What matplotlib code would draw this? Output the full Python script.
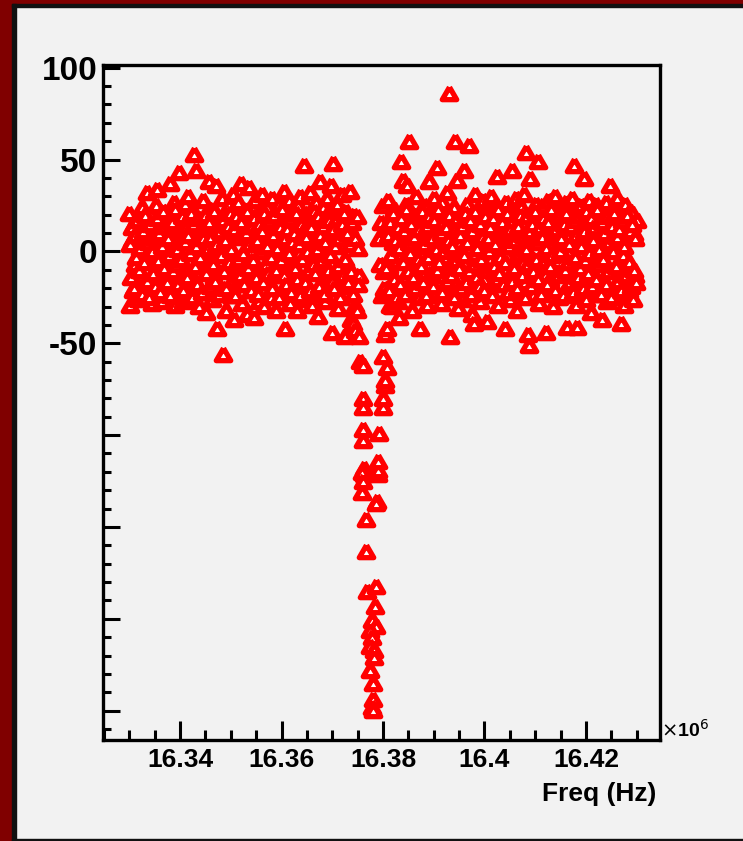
import matplotlib
matplotlib.use('Agg')
from matplotlib import pyplot as plt
from matplotlib.patches import Rectangle
from matplotlib.markers import MarkerStyle
from matplotlib.ticker import MultipleLocator, FixedLocator
import numpy as np

# left side of the resonance, first sweep (freq in MHz)
freq_left = [
    16.3300, 16.3302, 16.3305, 16.3307, 16.3310, 16.3312, 16.3315, 16.3317, 16.3320, 16.3322,
    16.3325, 16.3327, 16.3330, 16.3332, 16.3335, 16.3337, 16.3340, 16.3342, 16.3345, 16.3347,
    16.3350, 16.3352, 16.3355, 16.3357, 16.3360, 16.3362, 16.3365, 16.3367, 16.3370, 16.3372,
    16.3375, 16.3377, 16.3380, 16.3382, 16.3385, 16.3387, 16.3390, 16.3392, 16.3395, 16.3397,
    16.3400, 16.3402, 16.3405, 16.3407, 16.3410, 16.3412, 16.3415, 16.3417, 16.3420, 16.3422,
    16.3425, 16.3427, 16.3430, 16.3432, 16.3435, 16.3437, 16.3440, 16.3442, 16.3445, 16.3447,
    16.3450, 16.3452, 16.3455, 16.3457, 16.3460, 16.3462, 16.3465, 16.3467, 16.3470, 16.3472,
    16.3475, 16.3477, 16.3480, 16.3482, 16.3485, 16.3487, 16.3490, 16.3492, 16.3495, 16.3497,
    16.3500, 16.3502, 16.3505, 16.3507, 16.3510, 16.3512, 16.3515, 16.3517, 16.3520, 16.3522,
    16.3525, 16.3527, 16.3530, 16.3532, 16.3535, 16.3537, 16.3540, 16.3542, 16.3545, 16.3547,
    16.3550, 16.3552, 16.3555, 16.3557, 16.3560, 16.3562, 16.3565, 16.3567, 16.3570, 16.3572,
    16.3575, 16.3577, 16.3580, 16.3582, 16.3585, 16.3587, 16.3590, 16.3592, 16.3595, 16.3597,
    16.3600, 16.3602, 16.3605, 16.3607, 16.3610, 16.3612, 16.3615, 16.3617, 16.3620, 16.3622,
    16.3625, 16.3627, 16.3630, 16.3632, 16.3635, 16.3637, 16.3640, 16.3642, 16.3645, 16.3647,
    16.3650, 16.3652, 16.3655, 16.3657, 16.3660, 16.3662, 16.3665, 16.3667, 16.3670, 16.3672,
    16.3675, 16.3677, 16.3680, 16.3682, 16.3685, 16.3687, 16.3690, 16.3692, 16.3695, 16.3697,
    16.3700, 16.3702, 16.3705, 16.3707, 16.3710, 16.3712, 16.3715, 16.3717, 16.3720, 16.3722,
    16.3725, 16.3727, 16.3730, 16.3732, 16.3735, 16.3737, 16.3740, 16.3742, 16.3745,
]
resp_left = [
    20, -30, 5, -22, 14, -8, 17, -27, 9, -14,
    23, -3, -25, 11, 31, -18, 2, 19, -29, 7,
    -11, 24, 33, -20, 13, -5, -28, 21, 0, -16,
    16, -24, 36, 4, -13, 26, -30, 10, -7, 42,
    -21, 18, -28, 6, 25, -12, 29, -26, 12, -2,
    21, 52, -17, 43, 3, -31, 15, -9, 27, -23,
    8, -34, 19, 37, -6, -27, 22, -15, 35, -43,
    5, -20, 13, 28, -57, 0, -33, 17, -10, 24,
    -25, 9, 30, -38, 14, -4, 26, -19, 36, -29,
    11, -7, 22, -35, 34, 3, -22, 18, -37, 27,
    -13, 6, -28, 21, -1, 30, -31, 15, -9, 23,
    -18, 10, -26, 28, -4, 19, -33, 7, 25, -14,
    12, -24, 32, -43, 17, -8, 27, -29, 2, 22,
    -17, 9, -33, 24, -2, 29, -21, 14, 46, -27,
    5, 20, -11, 31, -30, 13, -6, 26, -23, -36,
    37, 0, -19, 23, -28, 11, 28, -14, 18, 35,
    -45, 47, -25, 8, 25, -32, 16, -9, 30, -20,
    -47, 21, -15, 12, 32, -38, -40, 19, -30,
]

# left side, second sweep
freq_left2 = [
    16.3301, 16.3304, 16.3306, 16.3309, 16.3311, 16.3314, 16.3316, 16.3319, 16.3321, 16.3324,
    16.3326, 16.3329, 16.3331, 16.3334, 16.3336, 16.3339, 16.3341, 16.3344, 16.3346, 16.3349,
    16.3351, 16.3354, 16.3356, 16.3359, 16.3361, 16.3364, 16.3366, 16.3369, 16.3371, 16.3374,
    16.3376, 16.3379, 16.3381, 16.3384, 16.3386, 16.3389, 16.3391, 16.3394, 16.3396, 16.3399,
    16.3401, 16.3404, 16.3406, 16.3409, 16.3411, 16.3414, 16.3416, 16.3419, 16.3421, 16.3424,
    16.3426, 16.3429, 16.3431, 16.3434, 16.3436, 16.3439, 16.3441, 16.3444, 16.3446, 16.3449,
    16.3451, 16.3454, 16.3456, 16.3459, 16.3461, 16.3464, 16.3466, 16.3469, 16.3471, 16.3474,
    16.3476, 16.3479, 16.3481, 16.3484, 16.3486, 16.3489, 16.3491, 16.3494, 16.3496, 16.3499,
    16.3501, 16.3504, 16.3506, 16.3509, 16.3511, 16.3514, 16.3516, 16.3519, 16.3521, 16.3524,
    16.3526, 16.3529, 16.3531, 16.3534, 16.3536, 16.3539, 16.3541, 16.3544, 16.3546, 16.3549,
    16.3551, 16.3554, 16.3556, 16.3559, 16.3561, 16.3564, 16.3566, 16.3569, 16.3571, 16.3574,
    16.3576, 16.3579, 16.3581, 16.3584, 16.3586, 16.3589, 16.3591, 16.3594, 16.3596, 16.3599,
    16.3601, 16.3604, 16.3606, 16.3609, 16.3611, 16.3614, 16.3616, 16.3619, 16.3621, 16.3624,
    16.3626, 16.3629, 16.3631, 16.3634, 16.3636, 16.3639, 16.3641, 16.3644, 16.3646, 16.3649,
    16.3651, 16.3654, 16.3656, 16.3659, 16.3661, 16.3664, 16.3666, 16.3669, 16.3671, 16.3674,
    16.3676, 16.3679, 16.3681, 16.3684, 16.3686, 16.3689, 16.3691, 16.3694, 16.3696, 16.3699,
    16.3701, 16.3704, 16.3706, 16.3709, 16.3711, 16.3714, 16.3716, 16.3719, 16.3721, 16.3724,
    16.3726, 16.3729, 16.3731, 16.3734, 16.3736, 16.3739, 16.3741, 16.3744,
]
resp_left2 = [
    3, -15, 12, -21, 8, -4, 16, -11, 1, -24,
    10, -7, 19, -17, 4, -26, 14, -1, -13, 7,
    -20, 17, -6, 9, -23, 2, 21, -10, 13, -18,
    6, -3, -25, 15, -12, 22, -8, 0, -19, 11,
    -5, 18, -22, 4, 12, -15, 8, -2, 20, -26,
    14, -9, 2, -19, 17, -4, 9, -23, 6, 19,
    -13, 1, 15, -20, 7, -8, 21, -17, 3, 12,
    -24, 10, -3, 16, -12, 5, -21, 13, -7, 20,
    0, -16, 11, -25, 18, -5, 7, -14, 15, -2,
    -19, 9, 21, -10, 3, -22, 13, -6, 17, -15,
    5, -24, 14, -1, 10, -18, 20, -8, 2, -13,
    16, -4, -21, 8, 19, -11, 1, -26, 12, -6,
    22, -14, 6, -19, 11, -2, 17, -23, 4, 9,
    -10, 20, -16, 3, -25, 14, -5, 10, -18, 7,
    -1, 15, -22, 12, -8, 21, -13, 0, 18, -20,
    8, -6, 13, -24, 4, 19, -11, 16, -3, -17,
    11, -21, 2, 17, -9, 6, -26, 14, -14, 20,
    -5, 9, -18, 3, -12, 15, -24, 6,
]

# points in and around the dip
freq_dip = [
    16.3745, 16.3749, 16.3752, 16.3755, 16.3750, 16.3752, 16.3751, 16.3748,
    16.3761, 16.3761, 16.3761, 16.3761, 16.3761, 16.3762, 16.3762, 16.3759,
    16.3761, 16.3759, 16.3766, 16.3766, 16.3768, 16.3786, 16.3784, 16.3778,
    16.3786, 16.3774, 16.3778, 16.3774, 16.3782, 16.3782, 16.3774, 16.3780,
    16.3780, 16.3778, 16.3780, 16.3788, 16.3786, 16.3790, 16.3790, 16.3790,
    16.3792, 16.3800, 16.3800, 16.3804, 16.3804, 16.3808, 16.3804, 16.3808,
    16.3802, 16.3814, 16.3800, 16.3792, 16.3794, 16.3796, 16.3798, 16.3800,
    16.3801,
]
resp_dip = [
    -44, -33, -47, -61, 1, -14, -19, 18,
    -63, -81, -86, -98, -104, -119, -122, -121,
    -126, -132, -147, -164, -186, -183, -194, -202,
    -205, -207, -211, -216, -218, -222, -229, -236,
    -245, -249, -251, -137, -138, -122, -120, -115,
    -100, -86, -81, -74, -71, -64, -46, -43,
    -21, -30, -58, 6, -8, 15, -25, 24,
    -12,
]

# right side of the resonance, first sweep
freq_right = [
    16.3805, 16.3807, 16.3810, 16.3812, 16.3815, 16.3817, 16.3820, 16.3822, 16.3825, 16.3827,
    16.3830, 16.3832, 16.3835, 16.3837, 16.3840, 16.3842, 16.3845, 16.3847, 16.3850, 16.3852,
    16.3855, 16.3857, 16.3860, 16.3862, 16.3865, 16.3867, 16.3870, 16.3872, 16.3875, 16.3877,
    16.3880, 16.3882, 16.3885, 16.3887, 16.3890, 16.3892, 16.3895, 16.3897, 16.3900, 16.3902,
    16.3905, 16.3907, 16.3910, 16.3912, 16.3915, 16.3917, 16.3920, 16.3922, 16.3925, 16.3927,
    16.3930, 16.3932, 16.3935, 16.3937, 16.3940, 16.3942, 16.3945, 16.3947, 16.3950, 16.3952,
    16.3955, 16.3957, 16.3960, 16.3962, 16.3965, 16.3967, 16.3970, 16.3972, 16.3975, 16.3977,
    16.3980, 16.3982, 16.3985, 16.3987, 16.3990, 16.3992, 16.3995, 16.3997, 16.4000, 16.4002,
    16.4005, 16.4007, 16.4010, 16.4012, 16.4015, 16.4017, 16.4020, 16.4022, 16.4025, 16.4027,
    16.4030, 16.4032, 16.4035, 16.4037, 16.4040, 16.4042, 16.4045, 16.4047, 16.4050, 16.4052,
    16.4055, 16.4057, 16.4060, 16.4062, 16.4065, 16.4067, 16.4070, 16.4072, 16.4075, 16.4077,
    16.4080, 16.4082, 16.4085, 16.4087, 16.4090, 16.4092, 16.4095, 16.4097, 16.4100, 16.4102,
    16.4105, 16.4107, 16.4110, 16.4112, 16.4115, 16.4117, 16.4120, 16.4122, 16.4125, 16.4127,
    16.4130, 16.4132, 16.4135, 16.4137, 16.4140, 16.4142, 16.4145, 16.4147, 16.4150, 16.4152,
    16.4155, 16.4157, 16.4160, 16.4162, 16.4165, 16.4167, 16.4170, 16.4172, 16.4175, 16.4177,
    16.4180, 16.4182, 16.4185, 16.4187, 16.4190, 16.4192, 16.4195, 16.4197, 16.4200, 16.4202,
    16.4205, 16.4207, 16.4210, 16.4212, 16.4215, 16.4217, 16.4220, 16.4222, 16.4225, 16.4227,
    16.4230, 16.4232, 16.4235, 16.4237, 16.4240, 16.4242, 16.4245, 16.4247, 16.4250, 16.4252,
    16.4255, 16.4257, 16.4260, 16.4262, 16.4265, 16.4267, 16.4270, 16.4272, 16.4275, 16.4277,
    16.4280, 16.4282, 16.4285, 16.4287, 16.4290, 16.4292, 16.4295, 16.4297, 16.4300,
]
resp_right = [
    12, -24, 27, -9, 18, -31, 4, 22, -17, 9,
    -28, -37, 48, 15, 38, -6, 25, 35, -21, 59,
    0, -33, 19, -12, 29, 7, -26, -43, 14, -3,
    24, -19, 10, -30, 37, 2, 21, -14, 28, -25,
    6, 45, -10, 17, -29, 26, -4, 12, -22, 31,
    85, -47, 8, -18, 23, 59, 38, -32, 3, 19,
    -27, 14, 43, -8, 25, -20, 57, 1, -35, 16,
    -40, 30, -13, 9, 22, -28, 5, 27, -16, 11,
    -39, 20, -6, 29, -24, 13, -11, 24, 40, -30,
    7, 21, -19, 15, -43, 26, -3, 10, -27, 18,
    43, -14, 2, 28, -33, 12, -22, 23, -7, 30,
    -18, 53, -46, -52, 39, 6, -25, 17, -10, 25,
    48, -29, 11, -4, 24, -21, 14, -45, 27, 3,
    -16, 20, -31, 9, 29, -12, 16, -26, 22, -2,
    13, -23, 26, -42, 7, 19, -17, 28, -8, 46,
    -30, -42, 15, 2, 24, -20, 11, 39, -27, 18,
    -9, 27, -34, 6, 21, -15, 25, -24, 12, -3,
    23, -38, 8, -19, 26, -28, 14, 35, -11, 19,
    -25, 4, 22, 28, -16, 10, -40, 17, -30, 25,
    -6, 13, -22, 21, 20, -27, 9, -14, 16,
]

# right side, second sweep
freq_right2 = [
    16.3806, 16.3809, 16.3811, 16.3814, 16.3816, 16.3819, 16.3821, 16.3824, 16.3826, 16.3829,
    16.3831, 16.3834, 16.3836, 16.3839, 16.3841, 16.3844, 16.3846, 16.3849, 16.3851, 16.3854,
    16.3856, 16.3859, 16.3861, 16.3864, 16.3866, 16.3869, 16.3871, 16.3874, 16.3876, 16.3879,
    16.3881, 16.3884, 16.3886, 16.3889, 16.3891, 16.3894, 16.3896, 16.3899, 16.3901, 16.3904,
    16.3906, 16.3909, 16.3911, 16.3914, 16.3916, 16.3919, 16.3921, 16.3924, 16.3926, 16.3929,
    16.3931, 16.3934, 16.3936, 16.3939, 16.3941, 16.3944, 16.3946, 16.3949, 16.3951, 16.3954,
    16.3956, 16.3959, 16.3961, 16.3964, 16.3966, 16.3969, 16.3971, 16.3974, 16.3976, 16.3979,
    16.3981, 16.3984, 16.3986, 16.3989, 16.3991, 16.3994, 16.3996, 16.3999, 16.4001, 16.4004,
    16.4006, 16.4009, 16.4011, 16.4014, 16.4016, 16.4019, 16.4021, 16.4024, 16.4026, 16.4029,
    16.4031, 16.4034, 16.4036, 16.4039, 16.4041, 16.4044, 16.4046, 16.4049, 16.4051, 16.4054,
    16.4056, 16.4059, 16.4061, 16.4064, 16.4066, 16.4069, 16.4071, 16.4074, 16.4076, 16.4079,
    16.4081, 16.4084, 16.4086, 16.4089, 16.4091, 16.4094, 16.4096, 16.4099, 16.4101, 16.4104,
    16.4106, 16.4109, 16.4111, 16.4114, 16.4116, 16.4119, 16.4121, 16.4124, 16.4126, 16.4129,
    16.4131, 16.4134, 16.4136, 16.4139, 16.4141, 16.4144, 16.4146, 16.4149, 16.4151, 16.4154,
    16.4156, 16.4159, 16.4161, 16.4164, 16.4166, 16.4169, 16.4171, 16.4174, 16.4176, 16.4179,
    16.4181, 16.4184, 16.4186, 16.4189, 16.4191, 16.4194, 16.4196, 16.4199, 16.4201, 16.4204,
    16.4206, 16.4209, 16.4211, 16.4214, 16.4216, 16.4219, 16.4221, 16.4224, 16.4226, 16.4229,
    16.4231, 16.4234, 16.4236, 16.4239, 16.4241, 16.4244, 16.4246, 16.4249, 16.4251, 16.4254,
    16.4256, 16.4259, 16.4261, 16.4264, 16.4266, 16.4269, 16.4271, 16.4274, 16.4276, 16.4279,
    16.4281, 16.4284, 16.4286, 16.4289, 16.4291, 16.4294, 16.4296, 16.4299,
]
resp_right2 = [
    -10, 8, -22, 15, -3, 20, -16, 5, -26, 12,
    1, -19, 17, -7, 10, -24, 22, -12, 4, -2,
    14, -15, 7, -21, 19, -5, 11, -9, 21, -18,
    3, -25, 13, -4, 18, -13, 6, -20, 16, 0,
    -11, 22, -7, 9, -23, 15, -1, 12, -17, 5,
    19, -14, 2, -26, 11, -6, 17, -10, 8, -21,
    13, -3, 20, -18, 4, -12, 16, -24, 10, -8,
    21, -15, 1, -20, 14, -5, 7, -22, 18, -11,
    6, -1, 12, -25, 17, -9, 3, -16, 22, -13,
    -4, 15, -19, 9, -7, 20, -23, 2, 11, -17,
    16, -10, 5, -21, 13, -2, 19, -14, 8, -26,
    0, 18, -8, 10, -20, 14, -12, 21, -5, 4,
    -16, 12, -24, 7, 17, -6, 1, -19, 15, -9,
    22, -3, 9, -22, 11, -14, 18, -1, 6, -25,
    14, -11, 20, -7, 3, -18, 13, -23, 16, -4,
    8, -15, 19, -10, 2, -21, 10, -6, 21, -13,
    -2, 17, -20, 5, 12, -16, 22, -8, 0, -24,
    15, -5, 9, -19, 18, -12, 4, -26, 13, -1,
    20, -9, 7, -17, 11, -22, 16, -3, 2, -14,
    19, -7, 10, -20, 14, -11, 6, -18,
]

y_labels = {100: '100', 50: '50', 0: '0', -50: '-50'}
x_labels = ['16.34', '16.36', '16.38', '16.4', '16.42']

W, H = 743, 841
bg = '#f2f2f2'
font = 'Liberation Sans'

# equilateral triangle with sharp corners like ROOT's marker
tri = MarkerStyle([(0, 1), (-0.866, -0.5), (0.866, -0.5), (0, 1)], joinstyle='miter')

fig = plt.figure(figsize=(W / 100, H / 100), dpi=100, facecolor=bg)

# canvas border (ROOT style bevel)
fig.patches.append(Rectangle((0, 0), 12 / W, 1, transform=fig.transFigure, color='#800000', zorder=0))
fig.patches.append(Rectangle((0, 1 - 4 / H), 1, 4 / H, transform=fig.transFigure, color='#800000', zorder=0))
fig.patches.append(Rectangle((12 / W, 0), 4 / W, 1 - 4 / H, transform=fig.transFigure, color='#111111', zorder=0))
fig.patches.append(Rectangle((12 / W, 1 - 7 / H), 1 - 12 / W, 3 / H, transform=fig.transFigure, color='#111111', zorder=0))
fig.patches.append(Rectangle((12 / W, 0), 1 - 12 / W, 2 / H, transform=fig.transFigure, color='#111111', zorder=0))

ax = fig.add_axes([103 / W, 1 - 740 / H, 557 / W, 675 / H], facecolor=bg)

series = [(freq_left, resp_left), (freq_left2, resp_left2), (freq_dip, resp_dip),
          (freq_right, resp_right), (freq_right2, resp_right2)]
for fx, ry in series:
    ax.plot(fx, ry, linestyle='none', marker=tri, ms=12, mfc='white', mec='red', mew=3.8)

ax.set_xlim(16.3248, 16.4346)
ax.set_ylim(-266, 101.5)

ax.xaxis.set_major_locator(FixedLocator([16.34, 16.36, 16.38, 16.40, 16.42]))
ax.xaxis.set_minor_locator(MultipleLocator(0.005))
ax.set_xticklabels(x_labels, fontsize=19, fontweight='bold', family=font)
ax.yaxis.set_minor_locator(MultipleLocator(10))
ax.set_yticks(np.arange(-250, 101, 50))
ax.set_yticklabels([y_labels.get(int(v), '') for v in np.arange(-250, 101, 50)],
                   fontsize=24, fontweight='bold', family=font)

ax.tick_params(axis='x', which='major', direction='in', length=14, width=2.2, pad=6)
ax.tick_params(axis='x', which='minor', direction='in', length=7, width=2.2)
ax.tick_params(axis='y', which='major', direction='in', length=12.5, width=2.2, pad=4)
ax.tick_params(axis='y', which='minor', direction='in', length=6, width=2.2)
for s in ax.spines.values():
    s.set_linewidth(2.4)

fig.text(656 / W, 1 - 794 / H, 'Freq (Hz)', ha='right', va='center',
         fontsize=19, fontweight='bold', family=font)
fig.text(661 / W, 1 - 730 / H, r'$\times$10$^{6}$', ha='left', va='center',
         fontsize=14, fontweight='bold', family=font)

fig.savefig('out.png', dpi=100, facecolor=bg)
